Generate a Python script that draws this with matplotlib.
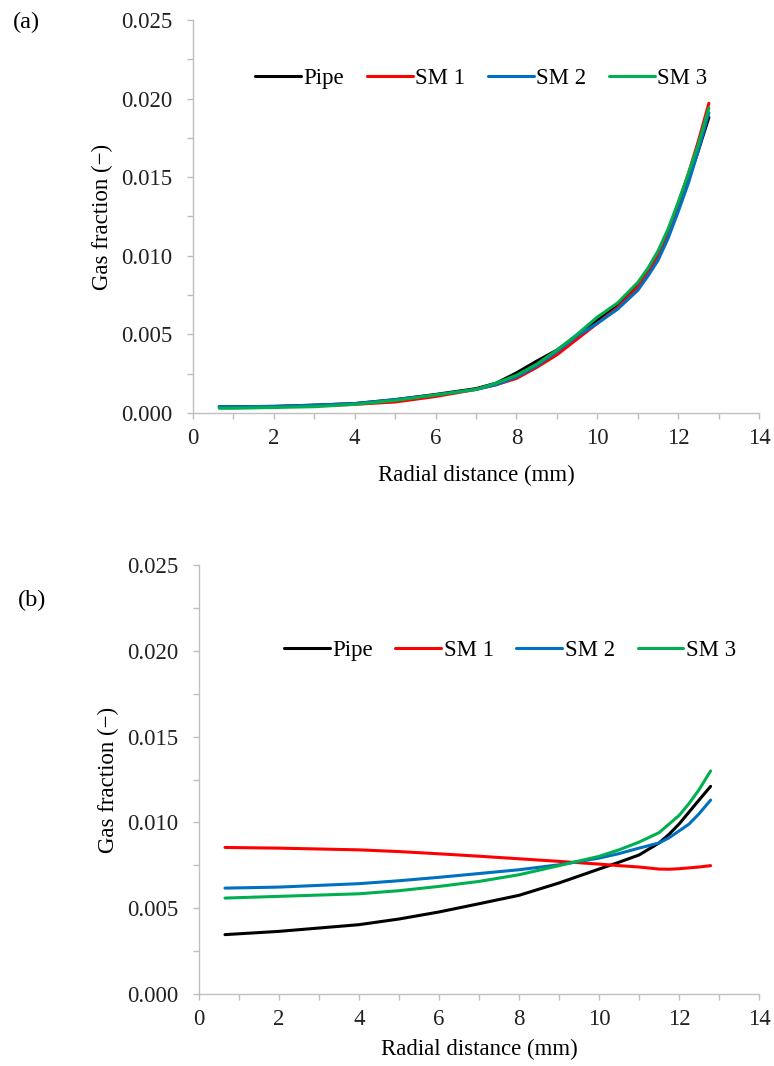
import matplotlib.pyplot as plt
from matplotlib.ticker import MultipleLocator, FormatStrFormatter

plt.rcParams['font.family'] = ['Liberation Serif', 'DejaVu Serif']

series_names = ['Pipe', 'SM 1', 'SM 2', 'SM 3']
series_colors = ['#000000', '#ff0000', '#0070c0', '#00b050']

# panel (a)
x_a = [0.65, 1, 2, 3, 4, 5, 6, 7, 7.5, 8, 8.5, 9, 9.5, 10, 10.5, 11, 11.25, 11.5, 11.75,
       12, 12.25, 12.5, 12.76]
pipe_a = [0.0004, 0.0004, 0.00042, 0.0005, 0.0006, 0.00085, 0.00118, 0.00155, 0.0019, 0.00255,
          0.0033, 0.0040, 0.0049, 0.0059, 0.0069, 0.0081, 0.0090, 0.0100, 0.0114,
          0.0131, 0.0148, 0.0167, 0.0188]
sm1_a = [0.00035, 0.00035, 0.0004, 0.00045, 0.00055, 0.0007, 0.00105, 0.0015, 0.0018, 0.0022,
         0.0029, 0.0037, 0.0047, 0.0057, 0.0067, 0.0080, 0.0089, 0.0100, 0.0115,
         0.0133, 0.0152, 0.0173, 0.0197]
sm2_a = [0.0004, 0.0004, 0.00042, 0.0005, 0.0006, 0.00085, 0.00115, 0.0015, 0.0018, 0.0023,
         0.0030, 0.0039, 0.0049, 0.0057, 0.0066, 0.0078, 0.0087, 0.0097, 0.0111,
         0.0128, 0.0146, 0.0167, 0.0191]
sm3_a = [0.0003, 0.0003, 0.00035, 0.0004, 0.00055, 0.0008, 0.00115, 0.0015, 0.0019, 0.0024,
         0.0031, 0.0040, 0.0050, 0.0061, 0.0070, 0.0083, 0.0092, 0.0103, 0.0117,
         0.0134, 0.0152, 0.0171, 0.0194]

# panel (b)
x_b = [0.65, 2, 4, 5, 6, 7, 8, 9, 10, 10.5, 11, 11.5, 11.75, 12, 12.25, 12.5, 12.79]
pipe_b = [0.00346, 0.00365, 0.00404, 0.00437, 0.00478, 0.00526, 0.00575, 0.00647, 0.00728,
          0.00768, 0.0081, 0.0088, 0.0093, 0.0099, 0.0106, 0.0113, 0.0121]
sm1_b = [0.00854, 0.0085, 0.0084, 0.0083, 0.00817, 0.00803, 0.00788, 0.00773, 0.00757,
         0.00748, 0.0074, 0.00728, 0.00727, 0.0073, 0.00735, 0.0074, 0.00748]
sm2_b = [0.00617, 0.00623, 0.00643, 0.0066, 0.0068, 0.00702, 0.00724, 0.00753, 0.00792,
         0.00818, 0.0085, 0.0088, 0.0091, 0.0095, 0.0099, 0.0105, 0.0113]
sm3_b = [0.00559, 0.00569, 0.00584, 0.00602, 0.00627, 0.00656, 0.00695, 0.00748, 0.00802,
         0.0084, 0.00885, 0.0094, 0.0099, 0.0104, 0.0111, 0.0119, 0.0130]

W, H = 774, 1066
fig = plt.figure(figsize=(W / 100, H / 100), dpi=100)

ax_a = fig.add_axes([193 / W, 1 - 413 / H, (759 - 193) / W, (413 - 20) / H])
ax_b = fig.add_axes([199 / W, 1 - 994 / H, (759 - 199) / W, (994 - 565) / H])

grey = '#bfbfbf'
fs = 16.5


def style(ax, xpad):
    ax.set_xlim(0, 14)
    ax.set_ylim(0, 0.025)
    ax.xaxis.set_major_locator(MultipleLocator(2))
    ax.xaxis.set_minor_locator(MultipleLocator(1))
    ax.yaxis.set_major_locator(MultipleLocator(0.005))
    ax.yaxis.set_minor_locator(MultipleLocator(0.0025))
    ax.yaxis.set_major_formatter(FormatStrFormatter('%.3f'))
    for s in ['top', 'right']:
        ax.spines[s].set_visible(False)
    for s in ['left', 'bottom']:
        ax.spines[s].set_color(grey)
        ax.spines[s].set_linewidth(1.0)
    ax.tick_params(which='both', direction='out', length=4, width=1.0, color=grey,
                   labelsize=fs, labelcolor='#222222')
    ax.tick_params(axis='y', pad=11)
    ax.tick_params(axis='x', pad=7)
    ax.set_xlabel('Radial distance (mm)', fontsize=fs, labelpad=xpad)
    ax.set_ylabel('Gas fraction (\u2212)', fontsize=fs, labelpad=6)


for ax, xs, ys, xpad in [(ax_a, x_a, [pipe_a, sm1_a, sm2_a, sm3_a], 11),
                         (ax_b, x_b, [pipe_b, sm1_b, sm2_b, sm3_b], 6)]:
    for name, col, y in zip(series_names, series_colors, ys):
        ax.plot(xs, y, color=col, lw=2.2, label=name, solid_capstyle='round')
    style(ax, xpad)

ax_a.legend(loc='center', bbox_to_anchor=(0.509, 0.852), ncol=4, frameon=False,
            fontsize=fs, handlelength=2.0, handletextpad=0.1, columnspacing=1.0)
ax_b.legend(loc='center', bbox_to_anchor=(0.555, 0.800), ncol=4, frameon=False,
            fontsize=fs, handlelength=2.0, handletextpad=0.1, columnspacing=1.0)

fig.text(13 / W, 1 - 22 / H, '(a)', fontsize=17.5, va='center', ha='left')
fig.text(18 / W, 1 - 600 / H, '(b)', fontsize=17.5, va='center', ha='left')

fig.savefig('out.png', dpi=100)
